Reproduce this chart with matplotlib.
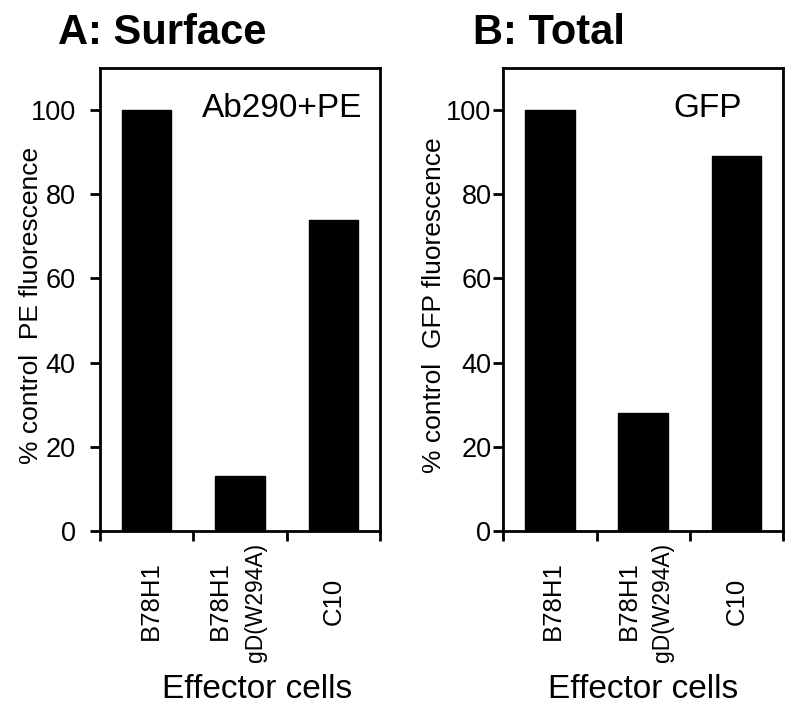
import matplotlib
matplotlib.use('Agg')
import matplotlib.pyplot as plt
import matplotlib.transforms as mtransforms

plt.rcParams['font.family'] = ['Liberation Sans', 'DejaVu Sans']

# data
categories = ['B78H1', 'B78H1', 'C10']
sub_labels = ['', 'gD(W294A)', '']
surface_pct = [100, 13, 74]
total_pct = [100, 28, 89]

panels = [
    {'title': 'A: Surface', 'values': surface_pct, 'tag': 'Ab290+PE',
     'ylabel': '% control  PE fluorescence'},
    {'title': 'B: Total', 'values': total_pct, 'tag': 'GFP',
     'ylabel': '% control  GFP fluorescence'},
]

fig = plt.figure(figsize=(8, 7.24), dpi=100)
ax_lefts = [0.125, 0.629]
title_x = [0.0725, 0.591]
tag_pos = [(0.936, 0.894, 'right'), (0.729, 0.894, 'center')]
xlabel_x = [0.56, 0.50]
ytick_pad = [10, 1]
name_shift = [(0.04, -0.22, 0.0), (0.03, -0.15, 0.0)]
sub_shift = [0.17, 0.21]

for k, p in enumerate(panels):
    ax = fig.add_axes([ax_lefts[k], 0.2666, 0.35, 0.6395])
    x = list(range(len(categories)))
    ax.bar(x, p['values'], width=0.53, color='black', edgecolor='black')

    ax.set_xlim(-0.5, len(categories) - 0.5)
    ax.set_ylim(0, 110)
    ax.set_yticks([0, 20, 40, 60, 80, 100])
    ax.set_xticks([i - 0.5 for i in range(len(categories) + 1)])
    ax.set_xticklabels([])
    ax.tick_params(axis='both', direction='out', length=7.5, width=2,
                   labelsize=19.5)
    ax.tick_params(axis='y', pad=ytick_pad[k])
    for s in ax.spines.values():
        s.set_linewidth(2)

    trans = mtransforms.blended_transform_factory(ax.transData, ax.transAxes)
    for i, name in enumerate(categories):
        ax.text(i + name_shift[k][i], -0.151, name, rotation=90,
                ha='center', va='center', fontsize=18.5, transform=trans)
        if sub_labels[i]:
            ax.text(i + sub_shift[k], -0.155, sub_labels[i], rotation=90,
                    ha='center', va='center', fontsize=16.5, transform=trans)

    tx, ty, tha = tag_pos[k]
    ax.text(tx, ty, p['tag'], ha=tha, va='baseline', fontsize=24,
            transform=ax.transAxes)

    ax.set_ylabel(p['ylabel'], fontsize=19)
    ax.yaxis.set_label_coords(-0.205, 0.488)
    ax.set_xlabel('Effector cells', fontsize=24)
    ax.xaxis.set_label_coords(xlabel_x[k], -0.309)

    fig.text(title_x[k], 0.939, p['title'], fontsize=30, fontweight='bold',
             va='baseline', ha='left')

fig.savefig('out.png', dpi=100)
